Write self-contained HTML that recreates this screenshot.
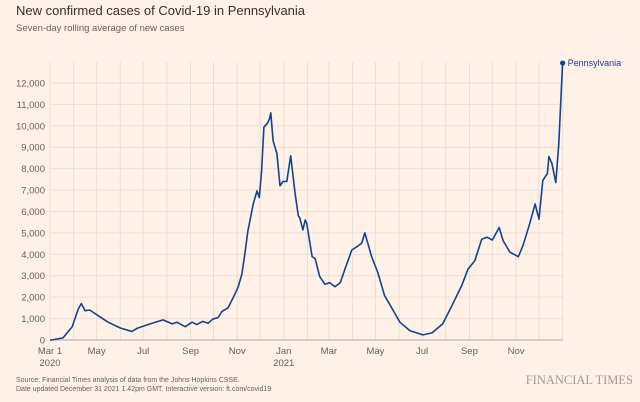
<!DOCTYPE html>
<html><head><meta charset="utf-8"><style>
body{margin:0;background:#fff1e5;}
svg{display:block;font-family:"Liberation Sans",sans-serif;}
</style></head><body>
<svg width="640" height="402" viewBox="0 0 640 402">
<rect width="640" height="402" fill="#fff1e5"/>
<text x="16" y="15" font-size="13" fill="#33302e">New confirmed cases of Covid-19 in Pennsylvania</text>
<text x="16" y="31" font-size="9.5" fill="#66605c">Seven-day rolling average of new cases</text>
<g id="grid"></g>
<g id="yaxis"></g>
<g id="xaxis"></g>
<path id="line" fill="none" stroke="#0a4597" stroke-width="1.6" stroke-linejoin="round"/>
<circle id="dot" r="2.6" fill="#0a4597"/>
<text id="lbl" font-size="9" fill="#0a4597">Pennsylvania</text>
<text x="16" y="382" font-size="7" fill="#66605c">Source: Financial Times analysis of data from the Johns Hopkins CSSE.</text>
<text x="16" y="391" font-size="7" fill="#66605c">Date updated December 31 2021 1.42pm GMT. Interactive version: ft.com/covid19</text>
<text x="633" y="384" text-anchor="end" font-size="12.5" fill="#a09a94" font-family="Liberation Serif,serif">FINANCIAL TIMES</text>
</svg>
<script>
const days=[0,2,17,29,37,41,46,52,65,76,92,107,115,131,148,160,166,177,186,192,200,207,213,220,225,233,240,246,251,255,259,266,271,274,277,280,284,287,289,292,297,301,305,310,315,321,325,327,331,334,336,343,347,353,360,366,373,380,386,395,402,408,412,416,421,429,438,448,458,471,488,500,514,526,539,547,556,565,572,579,588,593,602,613,619,628,635,640,645,651,653,657,662,666,671];
const cases=[0,0,100,620,1450,1700,1370,1400,1090,830,560,400,560,750,940,750,830,620,830,720,870,780,970,1050,1330,1500,2000,2440,3060,4000,5100,6340,6960,6650,7900,9930,10100,10300,10600,9300,8700,7200,7400,7400,8600,6800,5800,5700,5140,5600,5450,3900,3800,2960,2600,2680,2490,2680,3300,4200,4360,4520,5000,4520,3900,3150,2070,1450,830,440,240,330,750,1600,2550,3300,3700,4700,4800,4670,5250,4640,4100,3890,4400,5450,6350,5640,7450,7780,8560,8250,7350,9170,12930];
const yTicks=[0,1000,2000,3000,4000,5000,6000,7000,8000,9000,10000,11000,12000];
const xTickDays=[0,61,122,184,245,306,365,426,487,549,610];
const xTickLabels=["Mar 1","May","Jul","Sep","Nov","Jan","Mar","May","Jul","Sep","Nov"];
const xTickSub=["2020","","","","","2021","","","","",""];
const monthDays=[0,31,61,92,122,153,184,214,245,275,306,337,365,396,426,457,487,518,549,579,610,640,671];
const X=d=>50+d*0.764, Y=v=>340-v*0.02142;
const NS="http://www.w3.org/2000/svg";
function mk(tag,attrs,parent,txt){const e=document.createElementNS(NS,tag);for(const k in attrs)e.setAttribute(k,attrs[k]);if(txt!==undefined)e.textContent=txt;parent.appendChild(e);return e;}
const grid=document.getElementById('grid'),ya=document.getElementById('yaxis'),xa=document.getElementById('xaxis');
monthDays.forEach(d=>{const l=mk('line',{x1:X(d),x2:X(d),y1:62,y2:340,stroke:'#e9ded5','stroke-width':1},grid);

});
yTicks.forEach(v=>{const l=mk('line',{x1:50,x2:X(671),y1:Y(v),y2:Y(v),stroke:v===0?'#b3a9a0':'#e9ded5','stroke-width':1},grid);


const t=mk('text',{x:45,y:Y(v)+3.5,'text-anchor':'end','font-size':9.5,fill:'#66605c'},ya,v.toLocaleString('en-US'));

});
xTickDays.forEach((d,i)=>{const t=mk('text',{x:X(d),y:354,'text-anchor':'middle','font-size':9.5,fill:'#66605c'},xa,xTickLabels[i]);


if(xTickSub[i]){const s=mk('text',{x:X(d),y:366,'text-anchor':'middle','font-size':9.5,fill:'#66605c'},xa,xTickSub[i]);

}});
document.getElementById('line').setAttribute('d',days.map((d,i)=>(i?'L':'M')+X(d).toFixed(1)+','+Y(cases[i]).toFixed(1)).join(''));
const n=days.length-1,dot=document.getElementById('dot');
dot.setAttribute('cx',X(days[n]));dot.setAttribute('cy',Y(cases[n]));
const lb=document.getElementById('lbl');lb.setAttribute('x',X(days[n])+5);lb.setAttribute('y',Y(cases[n])+3);
</script>
</body></html>
